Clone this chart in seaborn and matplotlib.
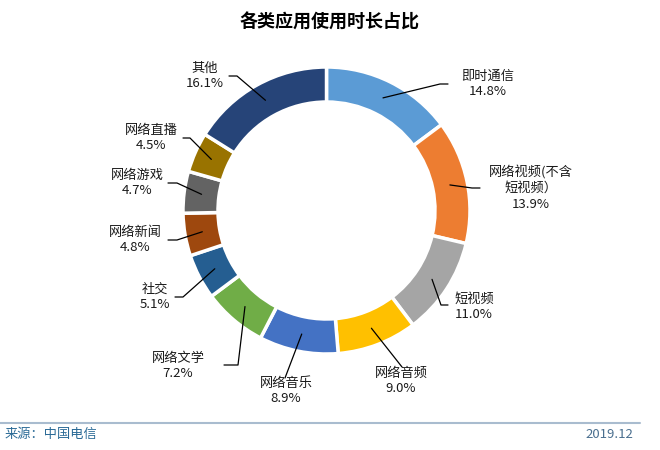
import matplotlib
matplotlib.use("Agg")
import matplotlib.pyplot as plt
import seaborn as sns
import numpy as np

categories = ["即时通信", "网络视频(不含\n短视频）", "短视频", "网络音频", "网络音乐",
              "网络文学", "社交", "网络新闻", "网络游戏", "网络直播", "其他"]
values = [14.8, 13.9, 11.0, 9.0, 8.9, 7.2, 5.1, 4.8, 4.7, 4.5, 16.1]
colors = ["#5B9BD5", "#ED7D31", "#A5A5A5", "#FFC000", "#4472C4", "#70AD47",
          "#255E91", "#9E480E", "#636363", "#997300", "#264478"]

title = "各类应用使用时长占比"
source = "来源：中国电信"
date_text = "2019.12"

# layout (image pixel coords): label centre, leader elbow, leader end
label_pos = [(488, 84), (531, 188), (474, 307), (401, 381), (286, 391),
             (178, 366), (155, 297), (135, 240), (137, 183), (151, 138), (205, 76)]
elbows = [(440, 84), (472, 188), (441, 305), (402, 367), (285, 378),
          (238, 365), (183, 297), (177, 240), (177, 183), (190, 138), (237, 76)]
ends = [(448, 84), (480, 188), (448, 305), (402, 367), (285, 378),
        (224, 365), (175, 297), (168, 240), (168, 183), (183, 138), (229, 76)]

sns.set_theme(style="white")
plt.rcParams['font.family'] = ['Noto Sans CJK SC', 'DejaVu Sans']

W, H = 660, 450
fig = plt.figure(figsize=(6.6, 4.5), dpi=100)
ax = fig.add_axes([0, 0, 1, 1])
palette = sns.color_palette(colors)

cx, cy, R = 326.5, H - 210.5, 143.5
ring = 35.0
wedges, _ = ax.pie(values, colors=palette, startangle=90, counterclock=False,
                   center=(cx, cy), radius=R,
                   wedgeprops=dict(width=ring, edgecolor="white", linewidth=2.5))
ax.set_xlim(0, W)
ax.set_ylim(0, H)
ax.set_aspect("equal")
ax.axis("off")

rmid = R - ring / 2
for w, cat, v, lp, el, en in zip(wedges, categories, values, label_pos, elbows, ends):
    ang = np.deg2rad((w.theta1 + w.theta2) / 2)
    sx, sy = cx + rmid * np.cos(ang), cy + rmid * np.sin(ang)
    ax.plot([sx, el[0], en[0]], [sy, H - el[1], H - en[1]], color="black", lw=0.9)
    ax.text(lp[0], H - lp[1], f"{cat}\n{v:.1f}%", ha="center", va="center",
            fontsize=9.5, color="#1a1a1a", linespacing=1.25)

fig.text(0.5, 1 - 22 / H, title, ha="center", va="center", fontsize=13,
         fontweight="bold", color="black")
ax.plot([0, 640], [H - 423, H - 423], color="#A9BCCF", lw=1.5)
fig.text(5 / W, 1 - 434 / H, source, ha="left", va="center", fontsize=9.5, color="#2A6A96")
fig.text(585 / W, 1 - 434 / H, date_text, ha="left", va="center", fontsize=9.5, color="#4A6F8F")

fig.savefig("out.png", dpi=100)
